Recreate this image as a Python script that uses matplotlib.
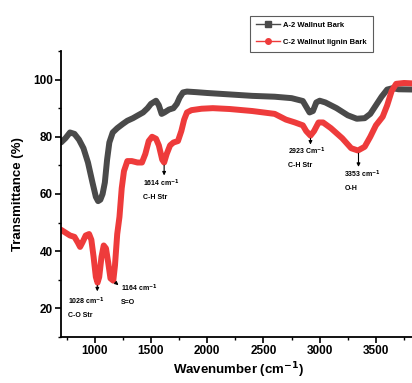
import matplotlib
matplotlib.use("Agg")
import matplotlib.pyplot as plt
from matplotlib.lines import Line2D
from matplotlib.ticker import MultipleLocator

plt.rcParams['font.family'] = ['Liberation Sans', 'DejaVu Sans']
plt.rcParams['font.weight'] = 'bold'
plt.rcParams['mathtext.default'] = 'bf'

# A-2 Wallnut Bark
wn_a = [700, 740, 780, 820, 860, 900, 940, 980, 1010, 1030, 1050, 1070, 1090, 1110, 1130,
        1160, 1200, 1250, 1290, 1340, 1380, 1430, 1470, 1500, 1545, 1570, 1595, 1620, 1660,
        1700, 1730, 1755, 1785, 1820, 1900, 2000, 2200, 2400, 2600, 2750, 2850, 2880, 2910,
        2940, 2970, 3000, 3050, 3150, 3250, 3330, 3400, 3450, 3500, 3550, 3600, 3650, 3700, 3850]
t_a = [78, 79.5, 81.5, 81, 79, 76, 71, 64, 59, 57.5, 58, 60, 64, 72, 78,
       81.5, 83, 84.5, 85.6, 86.5, 87.4, 88.5, 90, 91.5, 92.6, 91, 88, 88.5, 89.5,
       90, 91.5, 93.7, 95.5, 95.8, 95.6, 95.3, 94.8, 94.3, 94, 93.5, 92.5, 90.5, 88.5,
       89, 92, 92.6, 92, 90, 87.5, 86.3, 86.5, 88, 91, 94, 96.5, 97, 96.6, 96.5]

# C-2 Wallnut lignin Bark
wn_c = [700, 740, 780, 820, 850, 870, 890, 920, 950, 970, 990, 1010, 1025, 1040, 1060,
        1080, 1100, 1120, 1140, 1165, 1180, 1200, 1220, 1240, 1260, 1290, 1330, 1380, 1420,
        1450, 1480, 1510, 1545, 1570, 1600, 1617, 1640, 1670, 1700, 1740, 1770, 1795, 1820,
        1860, 1950, 2050, 2200, 2400, 2600, 2700, 2780, 2850, 2880, 2918, 2950, 2990, 3030,
        3100, 3200, 3280, 3340, 3400, 3450, 3500, 3560, 3600, 3640, 3680, 3750, 3850]
t_c = [47.5, 46.5, 45.5, 45, 43, 41.5, 43, 45.5, 46, 44, 38, 31, 29, 31, 38,
       42, 41, 36, 30.5, 29.7, 35, 46, 52, 62, 68, 71.5, 71.5, 71, 71,
       74, 78.5, 80, 79.3, 77, 72, 71, 74, 77, 78, 78.5, 82, 86, 88.5,
       89.3, 89.8, 90, 89.7, 89, 88, 86, 85, 84, 82, 80.4, 82, 85, 85,
       83, 79.5, 76, 75.2, 76.5, 80, 84, 87, 91, 96, 98.5, 98.8, 98.6]

series_names = ["A-2 Wallnut Bark", "C-2 Wallnut lignin Bark"]
gray = "#4a4a4a"
red = "#ee3b3b"

fig = plt.figure(figsize=(4.12, 3.83), dpi=100)
ax = fig.add_axes([0.148, 0.12, 0.86, 0.747])

ax.plot(wn_a, t_a, color=gray, lw=4.3, solid_joinstyle='round', solid_capstyle='round')
ax.plot(wn_c, t_c, color=red, lw=4.3, solid_joinstyle='round', solid_capstyle='round')

ax.set_xlim(700, 3850)
ax.set_ylim(10, 110)
ax.set_xticks([1000, 1500, 2000, 2500, 3000, 3500])
ax.set_yticks([20, 40, 60, 80, 100])
ax.xaxis.set_minor_locator(MultipleLocator(250))
ax.yaxis.set_minor_locator(MultipleLocator(10))
ax.tick_params(which='major', direction='out', length=4, width=1.2, labelsize=8.5, pad=2)
ax.tick_params(which='minor', direction='out', length=2.5, width=1)
for lab in ax.get_xticklabels() + ax.get_yticklabels():
    lab.set_fontweight('bold')
for s in ['top', 'right']:
    ax.spines[s].set_visible(False)
for s in ['left', 'bottom']:
    ax.spines[s].set_linewidth(1.3)

ax.set_xlabel("Wavenumber (cm$^{-1}$)", fontsize=9.5, fontweight='bold', labelpad=2)
ax.set_ylabel("Transmittance (%)", fontsize=9.5, fontweight='bold', labelpad=6)

fs = 5
# annotations
def ann(xy, xytext, label, sub, tx, ty):
    ax.annotate("", xy=xytext, xytext=xy,
                arrowprops=dict(arrowstyle='-|>', color='black', lw=0.8, mutation_scale=5))
    ax.text(tx, ty, label, fontsize=fs, fontweight='bold', va='center', ha='left')
    ax.text(tx, ty - 5, sub, fontsize=fs, fontweight='bold', va='center', ha='left')

ann((1023, 29), (1023, 25), "1028 cm$^{-1}$", "C-O Str", 760, 22.4)
ann((1165, 29.7), (1230, 27.5), "1164 cm$^{-1}$", "S=O", 1230, 27)
ann((1617, 71), (1617, 65.5), "1614 cm$^{-1}$", "C-H Str", 1430, 63.6)
ann((2918, 80.4), (2918, 76.3), "2923 Cm$^{-1}$", "C-H Str", 2720, 75)
ann((3345, 75.2), (3345, 68.5), "3353 cm$^{-1}$", "O-H", 3220, 67)

handles = [Line2D([], [], color=gray, lw=1, marker='s', ms=4),
           Line2D([], [], color=red, lw=1, marker='o', ms=4)]
leg = fig.legend(handles, series_names, loc='upper left', bbox_to_anchor=(0.597, 0.969),
                 frameon=True, fancybox=False, prop={'weight': 'bold', 'size': 5.5},
                 handlelength=3.2, borderpad=0.8, labelspacing=1.2, handletextpad=0.4)
leg.get_frame().set_edgecolor('#333333')
leg.get_frame().set_linewidth(0.8)

fig.savefig("out.png", dpi=100)
